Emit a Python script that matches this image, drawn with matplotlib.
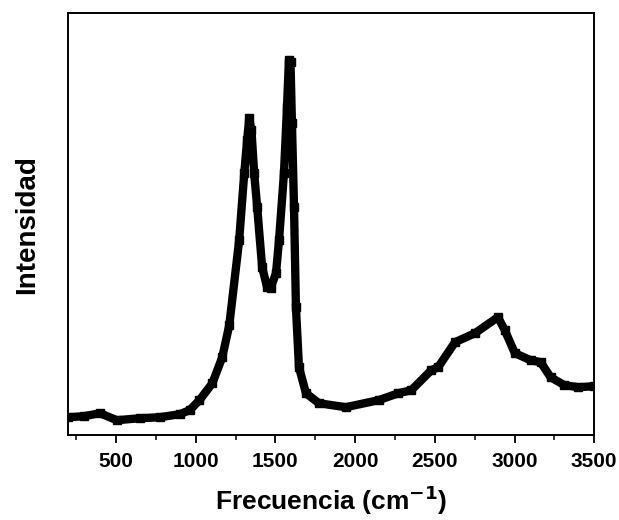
import matplotlib
matplotlib.use("Agg")
import matplotlib.pyplot as plt
from matplotlib.ticker import MultipleLocator

# espectro Raman (unidades arbitrarias)
frecuencia = [200, 300, 400, 506, 650, 775, 900, 962, 1024, 1105, 1167, 1211,
              1273, 1305, 1323, 1336, 1350, 1367, 1386, 1417, 1448, 1470, 1504,
              1523, 1554, 1573, 1585, 1595, 1604, 1617, 1629, 1648, 1692, 1773,
              1941, 2147, 2272, 2353, 2478, 2521, 2627, 2752, 2896, 2939, 3002,
              3101, 3164, 3226, 3313, 3400, 3500]
intensidad = [18, 19, 22, 15, 17, 18, 21, 25, 35, 52, 78, 110,
              195, 262, 295, 317, 305, 262, 228, 168, 148, 147, 162,
              195, 262, 328, 375, 373, 312, 228, 128, 68, 42, 32,
              28, 35, 42, 45, 65, 68, 93, 102, 118, 105, 82,
              75, 73, 58, 50, 48, 49]

xticks = [500, 1000, 1500, 2000, 2500, 3000, 3500]

plt.rcParams['font.family'] = ['Liberation Sans', 'DejaVu Sans']
plt.rcParams['font.weight'] = 'bold'

fig = plt.figure(figsize=(6.19, 5.2), dpi=100)
ax = fig.add_axes([0.110, 0.163, 0.850, 0.812])

ax.plot(frecuencia, intensidad, color='black', lw=6, marker='s', ms=6,
        solid_joinstyle='round', solid_capstyle='butt')

ax.set_xlim(200, 3500)
ax.set_ylim(0, 422)
ax.set_xticks(xticks)
ax.xaxis.set_minor_locator(MultipleLocator(250))
ax.set_yticks([])
ax.tick_params(axis='x', which='major', direction='out', length=6, width=1.3,
               labelsize=15, pad=6)
ax.tick_params(axis='x', which='minor', direction='out', length=3.5, width=1.1)
for s in ax.spines.values():
    s.set_linewidth(1.4)

ax.set_xlabel('Frecuencia (cm$^{\\mathbf{-1}}$)', fontsize=19, fontweight='bold',
              labelpad=9)
ax.set_ylabel('Intensidad', fontsize=20, fontweight='bold', labelpad=20)

fig.savefig('out.png', dpi=100)
